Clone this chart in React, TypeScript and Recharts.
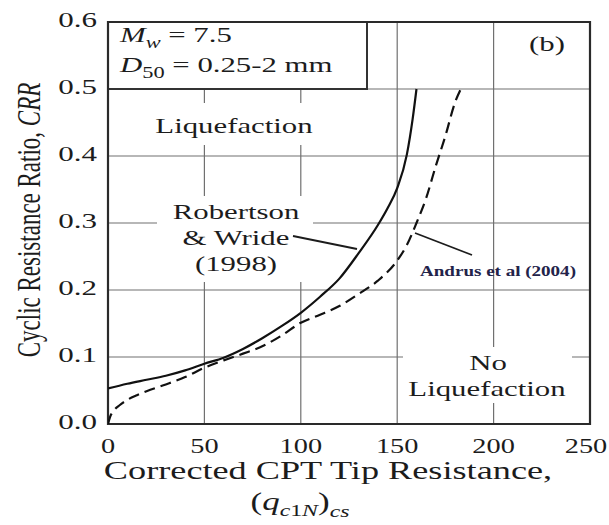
import { LineChart, Line, XAxis, YAxis, CartesianGrid, ReferenceArea } from "recharts";

// axis ticks
const qTicks = [0, 50, 100, 150, 200, 250];
const crrTicks = [0, 0.1, 0.2, 0.3, 0.4, 0.5, 0.6];

// Robertson & Wride (1998), solid
const robertsonQ = [0, 10, 20, 30, 40, 50, 60, 70, 80, 90, 100, 110, 120, 130, 140, 145, 150, 155, 158, 160];
const robertsonCRR = [0.053, 0.06, 0.066, 0.072, 0.08, 0.09, 0.099, 0.112, 0.128, 0.146, 0.166, 0.19, 0.217, 0.255, 0.297, 0.322, 0.352, 0.402, 0.455, 0.5];

// Andrus et al (2004), dashed
const andrusQ = [0, 1, 3, 6, 10, 15, 20, 30, 40, 50, 60, 70, 80, 90, 100, 110, 120, 130, 140, 150, 155, 160, 165, 170, 175, 180, 183];
const andrusCRR = [0, 0.01, 0.02, 0.028, 0.036, 0.043, 0.049, 0.059, 0.07, 0.084, 0.095, 0.105, 0.116, 0.132, 0.151, 0.163, 0.176, 0.194, 0.214, 0.244, 0.267, 0.3, 0.337, 0.385, 0.43, 0.48, 0.5];

const robertson = robertsonQ.map((q, i) => ({ q, crr: robertsonCRR[i] }));
const andrus = andrusQ.map((q, i) => ({ q, crr: andrusCRR[i] }));

const SERIF = '"Liberation Serif", "DejaVu Serif", serif';
const INK = "#1c1c1c";
const GRID = "#707070";
const SX = 1.4; // the source figure is stretched sideways

function XTick({ x, y, payload }: any) {
  // keep the last label inside the page
  const dx = Math.min(0, 607 - (x + 21));
  return (
    <g transform={`translate(${x + dx},${y})`}>
      <text transform="scale(1.35,1)" textAnchor="middle" dy="0.71em" fontSize={21} fill={INK} fontFamily={SERIF}>
        {payload.value}
      </text>
    </g>
  );
}

function YTick({ x, y, payload }: any) {
  return (
    <g transform={`translate(${x},${y - 2})`}>
      <text transform="scale(1.55,1)" textAnchor="end" dy="0.34em" fontSize={20} fill={INK} fontFamily={SERIF}>
        {Number(payload.value).toFixed(1)}
      </text>
    </g>
  );
}

function T({ x, y, size = 22, anchor = "middle", fill = INK, sx = SX, weight = "normal", children }: any) {
  return (
    <text transform={`translate(${x},${y}) scale(${sx},1)`} textAnchor={anchor} fontSize={size} fontWeight={weight} fill={fill} fontFamily={SERIF}>
      {children}
    </text>
  );
}

function Notes() {
  return (
    <g>
      {/* label backgrounds hide the grid */}
      <rect x={150} y={103} width={170} height={42} fill="#fff" />
      <rect x={157} y={196} width={156} height={86} fill="#fff" />
      <rect x={403} y={347} width={169} height={56} fill="#fff" />
      <rect x={108} y={22} width={259} height={67} fill="#fff" stroke="#333" strokeWidth={2} />

      <T x={120} y={42} anchor="start">
        <tspan fontStyle="italic">M</tspan>
        <tspan fontStyle="italic" fontSize={16} dy={6}>w</tspan>
        <tspan dy={-6}> = 7.5</tspan>
      </T>
      <T x={120} y={72} anchor="start">
        <tspan fontStyle="italic">D</tspan>
        <tspan fontSize={16} dy={6}>50</tspan>
        <tspan dy={-6}> = 0.25-2 mm</tspan>
      </T>
      <T x={547} y={51}>(b)</T>

      <T x={234} y={133}>Liquefaction</T>
      <T x={236} y={219}>Robertson</T>
      <T x={236} y={245}>&amp; Wride</T>
      <T x={236} y={271}>(1998)</T>
      <line x1={293} y1={236} x2={357} y2={249} stroke={INK} strokeWidth={1.8} />

      <T x={498} y={276} size={14} fill="#23234a" sx={1.36} weight="bold">Andrus et al (2004)</T>
      <line x1={415} y1={233} x2={472} y2={255} stroke={INK} strokeWidth={1.8} />

      <T x={488} y={370}>No</T>
      <T x={487} y={396}>Liquefaction</T>

      <text transform={`translate(40,220) scale(1.45,1) rotate(-90)`} textAnchor="middle" fontSize={23} fill={INK} fontFamily={SERIF}>
        Cyclic Resistance Ratio, <tspan fontStyle="italic">CRR</tspan>
      </text>
      <T x={328} y={479} size={25} sx={1.45}>Corrected CPT Tip Resistance,</T>
      <T x={300} y={510} size={25} sx={1.4}>
        <tspan>(</tspan>
        <tspan fontStyle="italic">q</tspan>
        <tspan fontSize={17} dy={6} fontStyle="italic">c</tspan>
        <tspan fontSize={17}>1</tspan>
        <tspan fontSize={17} fontStyle="italic">N</tspan>
        <tspan dy={-6}>)</tspan>
        <tspan fontSize={17} dy={7} fontStyle="italic">cs</tspan>
      </T>
    </g>
  );
}

export default function App() {
  return (
    <div style={{ position: "absolute", left: 0, top: 0, width: 609, height: 525, background: "#fff" }}>
      <LineChart width={609} height={525} margin={{ top: 22, right: 19, bottom: 41, left: 0 }}>
        <CartesianGrid stroke={GRID} strokeWidth={1.2} />
        <XAxis
          type="number"
          dataKey="q"
          domain={[0, 250]}
          ticks={qTicks}
          height={60}
          axisLine={false}
          tickLine={false}
          tickSize={6}
          tickMargin={8}
          tick={<XTick />}
          allowDataOverflow
        />
        <YAxis
          type="number"
          domain={[0, 0.6]}
          ticks={crrTicks}
          width={108}
          axisLine={false}
          tickLine={false}
          tickSize={6}
          tickMargin={5}
          tick={<YTick />}
          allowDataOverflow
        />
        <Notes />
        <ReferenceArea x1={0} x2={250} y1={0} y2={0.6} fill="none" stroke="#2a2a2a" strokeWidth={2.2} fillOpacity={0} />
        <Line data={robertson} dataKey="crr" type="monotone" stroke="#111" strokeWidth={2.2} dot={false} isAnimationActive={false} />
        <Line data={andrus} dataKey="crr" type="monotone" stroke="#111" strokeWidth={2.2} strokeDasharray="11 6" dot={false} isAnimationActive={false} />
      </LineChart>
    </div>
  );
}
